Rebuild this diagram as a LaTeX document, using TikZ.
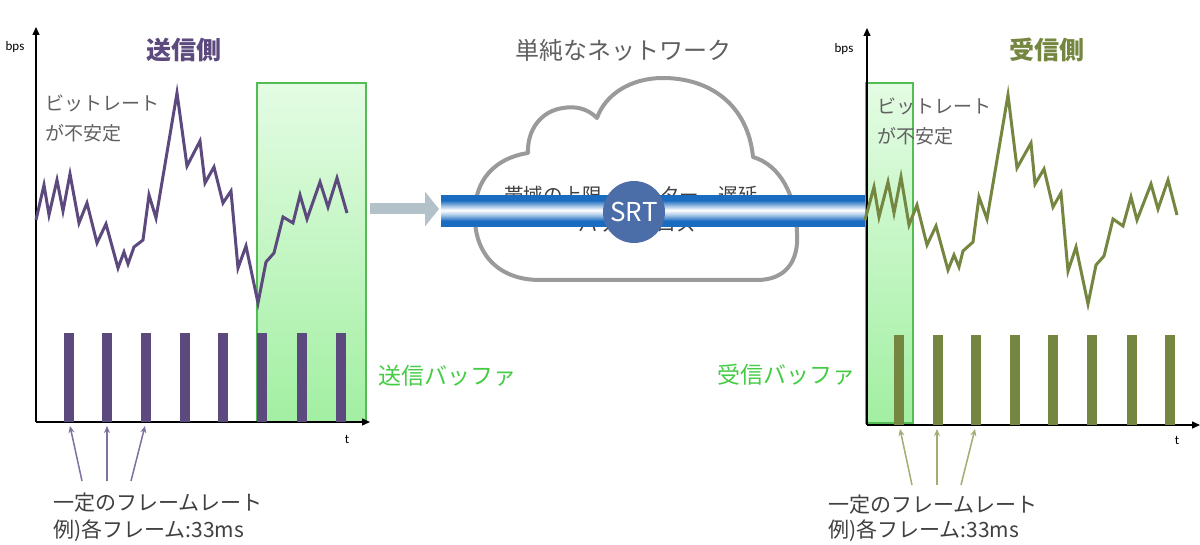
\documentclass[tikz,border=0pt]{standalone}
\usepackage{fontspec}
\setmainfont{Noto Sans CJK JP}
\newfontfamily\latinsans{Carlito}
\usetikzlibrary{arrows.meta}
\definecolor{sendpurple}{HTML}{5C4A7E}
\definecolor{sendarrow}{HTML}{8070A0}
\definecolor{recolive}{HTML}{74863F}
\definecolor{recarrow}{HTML}{A0AE72}
\definecolor{bufgreen}{HTML}{44CC44}
\definecolor{boxedge}{HTML}{55BB55}
\definecolor{boxtop}{HTML}{E4FCE4}
\definecolor{boxbot}{HTML}{A2EFA2}
\definecolor{txtgray}{HTML}{606060}
\definecolor{darktxt}{HTML}{404040}
\definecolor{cloudgray}{HTML}{9A9A9A}
\definecolor{pipeblue}{HTML}{1A6CC0}
\definecolor{srtblue}{HTML}{4B6DA8}
\definecolor{flowgray}{HTML}{B2C2C8}
\pgfdeclareverticalshading{pipeshade}{100bp}{
  color(0bp)=(pipeblue); color(35bp)=(pipeblue); color(45bp)=(pipeblue!35!white);
  color(52bp)=(white); color(58bp)=(pipeblue!35!white); color(68bp)=(pipeblue); color(100bp)=(pipeblue)}
\newcommand{\fsz}[1]{\fontsize{#1}{#1}\selectfont}
\tikzset{
  axisline/.style={line width=1.4pt, black, -{Triangle[length=8pt,width=7pt]}},
  bufbox/.style={draw=boxedge, line width=1.6pt, top color=boxtop, bottom color=boxbot},
  title/.style={inner sep=0, font=\fsz{25}\bfseries},
  graytxt/.style={inner sep=0, anchor=west, text=txtgray, font=\fsz{19}},
  lbltxt/.style={inner sep=0, anchor=west, text=darktxt, font=\fsz{21}},
  buftxt/.style={inner sep=0, anchor=west, text=bufgreen, font=\fsz{23}},
  axlbl/.style={inner sep=0, font=\latinsans\fsz{13}},
  rateline/.style={line width=3pt, line join=miter},
  pointer/.style={line width=1.5pt, -{Stealth[length=7pt,width=6pt]}},
}
\begin{document}
\begin{tikzpicture}[x=1pt,y=-1pt]
\useasboundingbox (0,0) rectangle (1200,545);
\fill[white] (0,0) rectangle (1200,545);

%================ sender =================
\node[title, text=sendpurple] (sendtitle) at (184,50) {送信側};
\path[bufbox] (257,83) rectangle (366,422);
\draw[axisline] (36,422) -- (36,27);
\draw[axisline] (36,422) -- (370,422);
\node[axlbl] (sbps) at (15,47) {bps};
\node[axlbl] (st) at (347,439) {t};
\node[graytxt] (sbit1) at (45,103) {ビットレート};
\node[graytxt] (sbit2) at (45,133) {が不安定};
\draw[rateline, sendpurple] (36,220) -- (44,185) -- (49,215) -- (57,180) -- (63,211) -- (70,174) -- (79,223) -- (87,203) -- (97,243) -- (106,224) -- (118,268) -- (124,252) -- (128,264) -- (134,247) -- (143,240) -- (149,195) -- (156,218) -- (177,93) -- (187,166) -- (200,141) -- (205,183) -- (214,167) -- (223,203) -- (231,191) -- (238,268) -- (246,246) -- (258,303) -- (266,262) -- (274,253) -- (283,217) -- (293,223) -- (300,195) -- (307,219) -- (320,182) -- (328,207) -- (337,178) -- (347,213);
\foreach \bx in {69,107,146,185,223,262,302,341}
  \fill[sendpurple] (\bx-5,333) rectangle (\bx+5,422);
\node[buftxt] (sendbuftxt) at (378,376) {送信バッファ};
\coordinate (sa1) at (70,426); \coordinate (sb1) at (82,481);
\coordinate (sa2) at (107,426); \coordinate (sb2) at (107,481);
\coordinate (sa3) at (145,426); \coordinate (sb3) at (131,481);
\draw[pointer, sendarrow] (sb1) -- (sa1);
\draw[pointer, sendarrow] (sb2) -- (sa2);
\draw[pointer, sendarrow] (sb3) -- (sa3);
\node[lbltxt] (sfr1) at (53,503) {一定のフレームレート};
\node[lbltxt] (sfr2) at (53,531) {例)各フレーム:33ms};

%================ network =================
\node[title, text=txtgray, font=\fsz{24}] (nettitle) at (623,50) {単純なネットワーク};
\draw[cloudgray, line width=4pt, fill=white, line join=round]
  (540,280) -- (757,280)
  .. controls (785,280) and (799,262) .. (797,233)
  .. controls (796,195) and (780,165) .. (753,157)
  .. controls (748,105) and (710,78) .. (663,78)
  .. controls (630,78) and (605,95) .. (597,118)
  .. controls (587,108) and (575,106) .. (563,108)
  .. controls (541,111) and (527,130) .. (528,153)
  .. controls (495,158) and (475,180) .. (475,212)
  .. controls (473,250) and (495,280) .. (540,280) -- cycle;
\node[inner sep=0, text=darktxt, font=\fsz{19.5}] (cl1) at (631,195) {帯域の上限、ジッター、遅延};
\node[inner sep=0, text=darktxt, font=\fsz{19.5}] (cl2) at (637,224) {パケットロス};
\coordinate (flowstart) at (370,209);
\coordinate (flowend) at (439,209);
\draw[flowgray, line width=11pt, -{Triangle[length=14pt,width=34pt]}] (flowstart) -- (flowend);
\shade[shading=pipeshade] (441,196) rectangle (866,227);
\node[circle, fill=srtblue, minimum size=62pt, inner sep=0, text=white, font=\fsz{26}] (srt) at (634,212) {SRT};

%================ receiver =================
\node[title, text=recolive] (rectitle) at (1047,50) {受信側};
\path[bufbox] (866,83) rectangle (913,423);
\draw[axisline] (867,425) -- (867,28);
\draw[axisline] (867,425) -- (1200,425);
\node[axlbl] (rbps) at (844,49) {bps};
\node[axlbl] (rt) at (1177,440) {t};
\node[graytxt] (rbit1) at (877,106) {ビットレート};
\node[graytxt] (rbit2) at (877,136) {が不安定};
\draw[rateline, recolive] (865,220) -- (874,187) -- (879,217) -- (888,182) -- (894,213) -- (901,177) -- (909,225) -- (917,205) -- (927,245) -- (936,226) -- (948,270) -- (954,255) -- (959,267) -- (963,251) -- (973,242) -- (979,197) -- (987,219) -- (1008,95) -- (1017,168) -- (1031,143) -- (1035,184) -- (1044,169) -- (1053,207) -- (1061,193) -- (1068,271) -- (1076,247) -- (1088,304) -- (1096,265) -- (1104,256) -- (1113,219) -- (1123,226) -- (1131,197) -- (1137,220) -- (1151,184) -- (1158,209) -- (1168,180) -- (1177,215);
\foreach \bx in {899,938,976,1015,1053,1092,1132,1170}
  \fill[recolive] (\bx-5,335) rectangle (\bx+5,425);
\node[buftxt] (recbuftxt) at (717,375) {受信バッファ};
\coordinate (ra1) at (900,429); \coordinate (rb1) at (912,485);
\coordinate (ra2) at (937,429); \coordinate (rb2) at (937,485);
\coordinate (ra3) at (975,429); \coordinate (rb3) at (961,485);
\draw[pointer, recarrow] (rb1) -- (ra1);
\draw[pointer, recarrow] (rb2) -- (ra2);
\draw[pointer, recarrow] (rb3) -- (ra3);
\node[lbltxt] (rfr1) at (828,505) {一定のフレームレート};
\node[lbltxt] (rfr2) at (828,531) {例)各フレーム:33ms};
\end{tikzpicture}
\end{document}
